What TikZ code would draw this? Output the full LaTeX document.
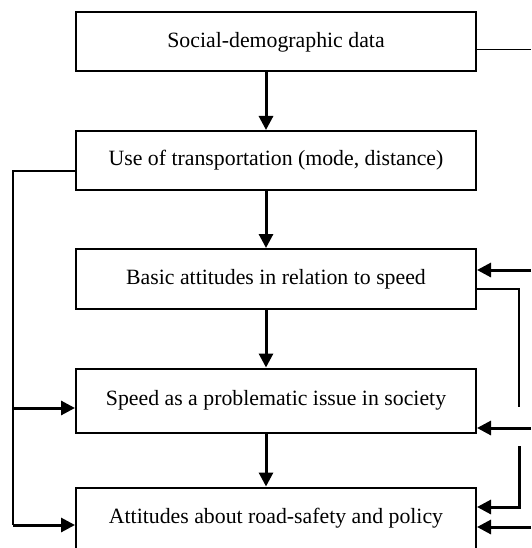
\documentclass[tikz,border=0pt]{standalone}
\usepackage{fontspec}
\setmainfont{Liberation Serif}
\usetikzlibrary{arrows.meta}
\begin{document}
\begin{tikzpicture}[x=1pt,y=-1pt,
  box/.style={draw, line width=2pt, minimum width=400pt, inner sep=0pt,
    font=\fontsize{21.8}{26}\selectfont},
  arr/.style={line width=3pt, -{Triangle[length=14pt,width=14pt]}},
  thin/.style={line width=1.6pt},
  mid/.style={line width=2pt}]
\useasboundingbox (0,0) rectangle (531,548);
\clip (0,0) rectangle (531,548);
\node[box, minimum height=59pt] (B1) at (276,42) {Social-demographic data};
\node[box, minimum height=59pt] (B2) at (276,160.5) {\raisebox{4pt}{Use of transportation (mode, distance)}};
\node[box, minimum height=60pt] (B3) at (276,279) {Basic attitudes in relation to speed};
\node[box, minimum height=64.5pt] (B4) at (276,400.75) {Speed as a problematic issue in society};
\node[box, minimum height=62pt] (B5) at (276,518.5) {Attitudes about road-safety and policy};
\coordinate (ax) at (266,0);
\draw[arr] (B1.south -| ax) -- (B2.north -| ax);
\draw[arr] (B2.south -| ax) -- (B3.north -| ax);
\draw[arr] (B3.south -| ax) -- (B4.north -| ax);
\draw[arr] (B4.south -| ax) -- (B5.north -| ax);
% top right line
\coordinate (r1) at (531,49.5);
\draw[thin] (r1 -| B1.east) -- (r1);
% left side
\coordinate (L1) at (13,171);
\coordinate (L2) at (13,408);
\coordinate (L3) at (13,525);
\draw[mid] (L1 -| B2.west) -- (L1) -- (L3);
\draw[arr] (L2) -- (L2 -| B4.west);
\draw[arr] (L3) -- (L3 -| B5.west);
% right side
\coordinate (R3) at (531,270);
\coordinate (R4) at (531,428);
\coordinate (R5) at (531,527);
\draw[arr] (R3) -- (R3 -| B3.east);
\draw[arr] (R4) -- (R4 -| B4.east);
\draw[arr] (R5) -- (R5 -| B5.east);
\coordinate (F1) at (519,289);
\coordinate (F2) at (519,407);
\coordinate (F3) at (519,446);
\coordinate (F4) at (519,507);
\draw[mid] (F1 -| B3.east) -- (F1) -- (F2);
\draw[arr] (F3) -- (F4) -- (F4 -| B5.east);
\end{tikzpicture}
\end{document}
